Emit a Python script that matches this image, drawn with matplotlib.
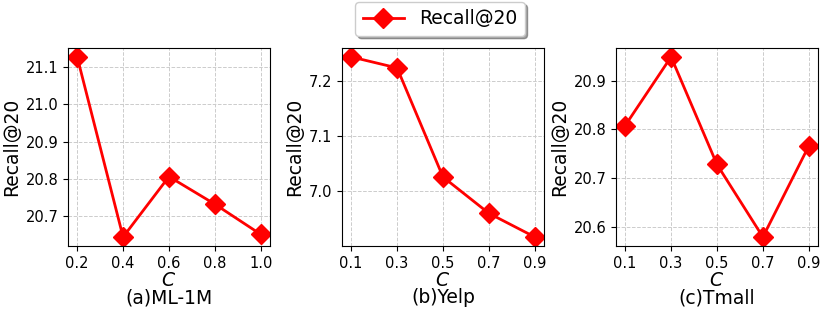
import matplotlib
matplotlib.use("Agg")
import matplotlib.pyplot as plt

# data
x_ml = [0.2, 0.4, 0.6, 0.8, 1.0]
y_ml = [21.127, 20.644, 20.806, 20.732, 20.651]
x_yelp = [0.1, 0.3, 0.5, 0.7, 0.9]
y_yelp = [7.244, 7.224, 7.026, 6.960, 6.917]
x_tmall = [0.1, 0.3, 0.5, 0.7, 0.9]
y_tmall = [20.808, 20.949, 20.728, 20.579, 20.766]

yt_ml = [20.7, 20.8, 20.9, 21.0, 21.1]
yt_yelp = [7.0, 7.1, 7.2]
yt_tmall = [20.6, 20.7, 20.8, 20.9]
titles = ["(a)ML-1M", "(b)Yelp", "(c)Tmall"]

fig = plt.figure(figsize=(8.21, 3.18), dpi=100)
lefts = [68 / 821, 342 / 821, 616 / 821]
panels = [(x_ml, y_ml, yt_ml), (x_yelp, y_yelp, yt_yelp), (x_tmall, y_tmall, yt_tmall)]

lines = []
for left, (xs, ys, yt), title in zip(lefts, panels, titles):
    ax = fig.add_axes([left, 0.2264, 0.246, 0.623])
    ln, = ax.plot(xs, ys, color="red", lw=2, marker="D", markersize=10, label="Recall@20")
    lines.append(ln)
    ax.set_xticks(xs)
    ax.set_xticklabels([f"{v:.1f}" for v in xs])
    ax.set_yticks(yt)
    ax.set_yticklabels([f"{v:.1f}" for v in yt])
    ax.tick_params(labelsize=10.5)
    ax.grid(True, ls="--", color="#cccccc", lw=0.7)
    ax.set_ylabel("Recall@20", fontsize=13.5, labelpad=3)
    ax.set_xlabel("$C$", fontsize=13.5, labelpad=0)
    ax.text(0.5, -0.212, title, transform=ax.transAxes, ha="center", va="top", fontsize=13.5)

fig.legend(handles=[lines[0]], loc="upper center", bbox_to_anchor=(440 / 821, 1.0),
           borderaxespad=0.1, fontsize=13.5, frameon=True, fancybox=True, shadow=True,
           handlelength=2.2)

fig.savefig("out.png", dpi=100, facecolor="white")
